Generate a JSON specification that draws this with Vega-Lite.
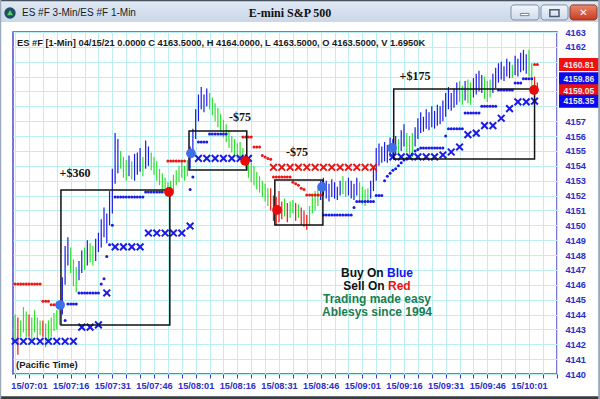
{
  "$schema": "https://vega.github.io/schema/vega-lite/v6.json",
  "width": 544,
  "height": 342,
  "autosize": "none",
  "padding": {"left": 13, "top": 32, "right": 43, "bottom": 25},
  "background": "white",
  "config": {
    "view": {"stroke": "#4b4bd0", "strokeWidth": 1.5, "fill": "white"},
    "axis": {"domain": false, "gridColor": "#bdeef2", "gridWidth": 1, "labelFont": "Liberation Sans", "labelFontWeight": "bold", "labelFontSize": 9.2, "labelColor": "#2d2dc8", "labelOverlap": false, "labelBound": false}
  },
  "datasets": {
    "bars": [
      {"t":416,"h":4144.0,"l":4142.3,"k":"weak"},{"t":417,"h":4143.8,"l":4141.3,"k":"down"},{"t":418,"h":4143.6,"l":4142.5,"k":"weak"},{"t":419,"h":4144.5,"l":4142.8,"k":"weak"},{"t":420,"h":4144.2,"l":4142.5,"k":"weak"},{"t":421,"h":4144.0,"l":4142.5,"k":"down"},{"t":422,"h":4143.8,"l":4142.3,"k":"weak"},{"t":423,"h":4144.3,"l":4142.8,"k":"weak"},{"t":424,"h":4143.8,"l":4142.3,"k":"weak"},{"t":425,"h":4143.6,"l":4142.6,"k":"weak"},{"t":426,"h":4143.6,"l":4142.5,"k":"down"},{"t":427,"h":4143.4,"l":4141.8,"k":"weak"},{"t":428,"h":4143.6,"l":4142.1,"k":"weak"},{"t":429,"h":4143.8,"l":4142.5,"k":"weak"},{"t":430,"h":4144.1,"l":4142.9,"k":"weak"},{"t":431,"h":4144.3,"l":4143.0,"k":"weak"},{"t":432,"h":4144.6,"l":4143.3,"k":"weak"},
      {"t":433,"h":4146.5,"l":4144.0,"k":"up"},{"t":434,"h":4148.6,"l":4146.0,"k":"up"},{"t":435,"h":4149.2,"l":4147.3,"k":"up"},{"t":436,"h":4148.5,"l":4146.8,"k":"weak"},{"t":437,"h":4147.7,"l":4145.9,"k":"weak"},{"t":438,"h":4147.2,"l":4145.5,"k":"weak"},{"t":439,"h":4147.6,"l":4146.3,"k":"up"},{"t":440,"h":4148.3,"l":4146.8,"k":"up"},{"t":441,"h":4148.5,"l":4147.0,"k":"weak"},{"t":442,"h":4149.0,"l":4147.3,"k":"up"},{"t":443,"h":4148.8,"l":4147.5,"k":"weak"},{"t":444,"h":4148.6,"l":4147.3,"k":"weak"},{"t":445,"h":4149.1,"l":4147.6,"k":"up"},{"t":446,"h":4149.5,"l":4148.2,"k":"up"},{"t":447,"h":4150.4,"l":4148.5,"k":"up"},{"t":448,"h":4151.2,"l":4149.2,"k":"up"},{"t":449,"h":4150.8,"l":4148.8,"k":"up"},{"t":450,"h":4152.3,"l":4150.0,"k":"up"},
      {"t":451,"h":4153.8,"l":4150.8,"k":"up"},{"t":452,"h":4156.2,"l":4152.8,"k":"up"},{"t":453,"h":4155.8,"l":4153.5,"k":"up"},{"t":454,"h":4155.0,"l":4153.8,"k":"weak"},{"t":455,"h":4154.6,"l":4153.2,"k":"weak"},{"t":456,"h":4154.4,"l":4153.0,"k":"weak"},{"t":457,"h":4154.7,"l":4153.3,"k":"up"},{"t":458,"h":4154.3,"l":4153.1,"k":"weak"},{"t":459,"h":4154.8,"l":4153.0,"k":"up"},{"t":460,"h":4154.9,"l":4153.4,"k":"up"},{"t":461,"h":4155.2,"l":4153.6,"k":"up"},{"t":462,"h":4154.6,"l":4153.3,"k":"weak"},{"t":463,"h":4155.7,"l":4153.8,"k":"up"},{"t":464,"h":4155.3,"l":4154.0,"k":"up"},{"t":465,"h":4154.9,"l":4153.7,"k":"weak"},{"t":466,"h":4154.6,"l":4153.4,"k":"weak"},{"t":467,"h":4154.3,"l":4153.0,"k":"weak"},{"t":468,"h":4153.8,"l":4152.7,"k":"weak"},{"t":469,"h":4153.5,"l":4152.4,"k":"weak"},{"t":470,"h":4153.2,"l":4152.2,"k":"weak"},
      {"t":471,"h":4152.9,"l":4151.9,"k":"weak"},{"t":472,"h":4153.0,"l":4152.0,"k":"weak"},{"t":473,"h":4153.4,"l":4152.3,"k":"weak"},{"t":474,"h":4153.7,"l":4152.7,"k":"weak"},{"t":475,"h":4154.0,"l":4152.9,"k":"weak"},{"t":476,"h":4154.3,"l":4153.2,"k":"weak"},{"t":477,"h":4154.0,"l":4153.0,"k":"weak"},{"t":478,"h":4154.4,"l":4153.3,"k":"weak"},{"t":479,"h":4155.3,"l":4153.8,"k":"up"},{"t":480,"h":4156.5,"l":4154.6,"k":"up"},{"t":481,"h":4157.8,"l":4155.8,"k":"up"},{"t":482,"h":4158.8,"l":4157.0,"k":"up"},{"t":483,"h":4159.3,"l":4157.8,"k":"up"},{"t":484,"h":4158.8,"l":4157.6,"k":"up"},{"t":485,"h":4159.2,"l":4158.0,"k":"up"},{"t":486,"h":4158.9,"l":4157.8,"k":"weak"},{"t":487,"h":4158.6,"l":4157.4,"k":"weak"},{"t":488,"h":4158.2,"l":4157.0,"k":"weak"},{"t":489,"h":4157.9,"l":4156.6,"k":"weak"},{"t":490,"h":4157.5,"l":4156.3,"k":"weak"},
      {"t":491,"h":4157.1,"l":4155.9,"k":"weak"},{"t":492,"h":4156.8,"l":4155.6,"k":"weak"},{"t":493,"h":4156.4,"l":4155.2,"k":"weak"},{"t":494,"h":4156.0,"l":4154.9,"k":"weak"},{"t":495,"h":4155.8,"l":4154.6,"k":"weak"},{"t":496,"h":4155.5,"l":4154.5,"k":"weak"},{"t":497,"h":4155.6,"l":4154.4,"k":"weak"},{"t":498,"h":4155.2,"l":4154.1,"k":"weak"},{"t":499,"h":4154.8,"l":4153.8,"k":"weak"},{"t":500,"h":4154.5,"l":4153.2,"k":"weak"},{"t":501,"h":4154.2,"l":4152.9,"k":"weak"},{"t":502,"h":4154.0,"l":4152.7,"k":"weak"},{"t":503,"h":4153.6,"l":4152.4,"k":"weak"},{"t":504,"h":4153.3,"l":4152.2,"k":"weak"},{"t":505,"h":4153.0,"l":4151.9,"k":"weak"},{"t":506,"h":4152.8,"l":4151.6,"k":"weak"},{"t":507,"h":4152.5,"l":4151.3,"k":"weak"},{"t":508,"h":4152.5,"l":4151.0,"k":"down"},{"t":509,"h":4152.0,"l":4150.3,"k":"down"},{"t":510,"h":4151.9,"l":4150.0,"k":"down"},
      {"t":511,"h":4152.3,"l":4150.2,"k":"down"},{"t":512,"h":4151.6,"l":4150.4,"k":"down"},{"t":513,"h":4151.8,"l":4150.6,"k":"weak"},{"t":514,"h":4151.5,"l":4150.2,"k":"down"},{"t":515,"h":4151.6,"l":4150.5,"k":"weak"},{"t":516,"h":4151.7,"l":4150.8,"k":"weak"},{"t":517,"h":4151.5,"l":4150.3,"k":"down"},{"t":518,"h":4151.4,"l":4150.5,"k":"weak"},{"t":519,"h":4151.2,"l":4150.0,"k":"down"},{"t":520,"h":4151.0,"l":4149.9,"k":"down"},{"t":521,"h":4150.7,"l":4149.7,"k":"down"},{"t":522,"h":4151.3,"l":4150.0,"k":"weak"},{"t":523,"h":4152.0,"l":4150.8,"k":"weak"},{"t":524,"h":4152.3,"l":4151.0,"k":"weak"},{"t":525,"h":4152.5,"l":4151.3,"k":"weak"},{"t":526,"h":4153.0,"l":4151.7,"k":"up"},{"t":527,"h":4153.2,"l":4152.0,"k":"up"},{"t":528,"h":4153.0,"l":4151.8,"k":"up"},{"t":529,"h":4152.8,"l":4151.6,"k":"up"},{"t":530,"h":4153.1,"l":4151.9,"k":"up"},
      {"t":531,"h":4152.9,"l":4151.8,"k":"up"},{"t":532,"h":4152.6,"l":4151.7,"k":"up"},{"t":533,"h":4153.0,"l":4152.0,"k":"up"},{"t":534,"h":4153.3,"l":4152.1,"k":"weak"},{"t":535,"h":4153.0,"l":4151.9,"k":"weak"},{"t":536,"h":4153.2,"l":4152.0,"k":"up"},{"t":537,"h":4153.0,"l":4151.8,"k":"up"},{"t":538,"h":4152.8,"l":4151.7,"k":"up"},{"t":539,"h":4153.2,"l":4152.0,"k":"up"},{"t":540,"h":4152.9,"l":4151.6,"k":"weak"},{"t":541,"h":4152.6,"l":4151.4,"k":"weak"},{"t":542,"h":4152.4,"l":4151.3,"k":"weak"},{"t":543,"h":4152.5,"l":4151.6,"k":"weak"},{"t":544,"h":4153.0,"l":4151.8,"k":"up"},{"t":545,"h":4154.0,"l":4152.3,"k":"up"},{"t":546,"h":4155.2,"l":4153.0,"k":"up"},{"t":547,"h":4155.5,"l":4154.0,"k":"up"},{"t":548,"h":4155.3,"l":4154.2,"k":"up"},{"t":549,"h":4155.6,"l":4154.3,"k":"up"},{"t":550,"h":4155.4,"l":4154.2,"k":"up"},
      {"t":551,"h":4155.9,"l":4154.6,"k":"up"},{"t":552,"h":4155.8,"l":4154.7,"k":"up"},{"t":553,"h":4156.0,"l":4154.8,"k":"up"},{"t":554,"h":4155.8,"l":4154.7,"k":"weak"},{"t":555,"h":4156.4,"l":4155.0,"k":"up"},{"t":556,"h":4156.8,"l":4155.3,"k":"up"},{"t":557,"h":4156.2,"l":4154.9,"k":"weak"},{"t":558,"h":4156.0,"l":4154.5,"k":"weak"},{"t":559,"h":4156.2,"l":4154.6,"k":"weak"},{"t":560,"h":4156.6,"l":4155.3,"k":"up"},{"t":561,"h":4157.2,"l":4155.8,"k":"up"},{"t":562,"h":4157.6,"l":4156.2,"k":"up"},{"t":563,"h":4157.3,"l":4156.3,"k":"up"},{"t":564,"h":4157.8,"l":4156.5,"k":"up"},{"t":565,"h":4157.6,"l":4156.4,"k":"up"},{"t":566,"h":4158.0,"l":4156.6,"k":"up"},{"t":567,"h":4157.7,"l":4156.5,"k":"up"},{"t":568,"h":4158.1,"l":4156.7,"k":"up"},{"t":569,"h":4158.0,"l":4156.8,"k":"up"},{"t":570,"h":4158.4,"l":4157.0,"k":"up"},
      {"t":571,"h":4158.9,"l":4157.3,"k":"up"},{"t":572,"h":4159.3,"l":4157.8,"k":"up"},{"t":573,"h":4158.9,"l":4157.7,"k":"up"},{"t":574,"h":4159.2,"l":4157.9,"k":"up"},{"t":575,"h":4159.6,"l":4158.1,"k":"up"},{"t":576,"h":4159.7,"l":4158.3,"k":"weak"},{"t":577,"h":4159.4,"l":4158.1,"k":"weak"},{"t":578,"h":4159.7,"l":4158.4,"k":"up"},{"t":579,"h":4159.8,"l":4158.2,"k":"weak"},{"t":580,"h":4159.6,"l":4158.1,"k":"weak"},{"t":581,"h":4159.9,"l":4158.6,"k":"up"},{"t":582,"h":4160.2,"l":4158.8,"k":"up"},{"t":583,"h":4160.4,"l":4159.0,"k":"up"},{"t":584,"h":4160.1,"l":4158.9,"k":"up"},{"t":585,"h":4160.0,"l":4158.5,"k":"weak"},{"t":586,"h":4159.7,"l":4158.3,"k":"weak"},{"t":587,"h":4159.8,"l":4158.6,"k":"weak"},{"t":588,"h":4160.2,"l":4158.9,"k":"up"},{"t":589,"h":4160.6,"l":4159.2,"k":"up"},{"t":590,"h":4160.9,"l":4159.6,"k":"up"},
      {"t":591,"h":4161.0,"l":4159.8,"k":"up"},{"t":592,"h":4160.7,"l":4159.7,"k":"up"},{"t":593,"h":4161.2,"l":4160.0,"k":"up"},{"t":594,"h":4161.0,"l":4159.9,"k":"up"},{"t":595,"h":4160.8,"l":4159.9,"k":"weak"},{"t":596,"h":4161.4,"l":4160.1,"k":"up"},{"t":597,"h":4161.2,"l":4160.0,"k":"up"},{"t":598,"h":4161.6,"l":4160.3,"k":"up"},{"t":599,"h":4161.8,"l":4160.4,"k":"up"},{"t":600,"h":4161.5,"l":4160.2,"k":"up"},{"t":601,"h":4161.8,"l":4160.0,"k":"weak"},{"t":602,"h":4160.9,"l":4159.4,"k":"weak"},{"t":603,"h":4160.0,"l":4158.9,"k":"down"},{"t":604,"h":4159.6,"l":4158.9,"k":"down"}
    ],
    "dots": [
      {"t":416,"p":4146.05,"s":"sell"},{"t":417,"p":4146.05,"s":"sell"},{"t":418,"p":4146.05,"s":"sell"},{"t":419,"p":4146.05,"s":"sell"},{"t":420,"p":4146.05,"s":"sell"},{"t":421,"p":4146.05,"s":"sell"},{"t":422,"p":4146.05,"s":"sell"},{"t":423,"p":4146.05,"s":"sell"},{"t":424,"p":4146.05,"s":"sell"},{"t":425,"p":4146.05,"s":"sell"},
      {"t":426,"p":4144.9,"s":"sell"},{"t":427,"p":4144.9,"s":"sell"},{"t":428,"p":4144.9,"s":"sell"},{"t":429,"p":4144.65,"s":"sell"},{"t":430,"p":4144.65,"s":"sell"},{"t":431,"p":4144.65,"s":"sell"},
      {"t":471,"p":4154.33,"s":"sell"},{"t":472,"p":4154.33,"s":"sell"},{"t":473,"p":4154.33,"s":"sell"},{"t":474,"p":4154.33,"s":"sell"},{"t":475,"p":4154.33,"s":"sell"},{"t":476,"p":4154.33,"s":"sell"},{"t":477,"p":4154.33,"s":"sell"},
      {"t":498,"p":4155.94,"s":"sell"},{"t":499,"p":4155.94,"s":"sell"},{"t":500,"p":4155.94,"s":"sell"},{"t":501,"p":4155.94,"s":"sell"},{"t":502,"p":4155.27,"s":"sell"},{"t":503,"p":4155.27,"s":"sell"},{"t":504,"p":4155.27,"s":"sell"},{"t":505,"p":4154.7,"s":"sell"},{"t":506,"p":4154.6,"s":"sell"},{"t":507,"p":4154.5,"s":"sell"},{"t":508,"p":4154.45,"s":"sell"},
      {"t":509,"p":4153.25,"s":"sell"},{"t":510,"p":4153.25,"s":"sell"},{"t":511,"p":4153.25,"s":"sell"},{"t":512,"p":4153.25,"s":"sell"},{"t":513,"p":4153.25,"s":"sell"},{"t":514,"p":4153.25,"s":"sell"},{"t":515,"p":4153.25,"s":"sell"},{"t":516,"p":4152.9,"s":"sell"},{"t":517,"p":4152.8,"s":"sell"},{"t":518,"p":4152.7,"s":"sell"},{"t":519,"p":4152.5,"s":"sell"},{"t":520,"p":4152.4,"s":"sell"},
      {"t":521,"p":4152.04,"s":"sell"},{"t":522,"p":4152.04,"s":"sell"},{"t":523,"p":4152.04,"s":"sell"},{"t":524,"p":4152.04,"s":"sell"},{"t":525,"p":4152.04,"s":"sell"},{"t":526,"p":4152.04,"s":"sell"},
      {"t":603,"p":4160.81,"s":"sell"},{"t":604,"p":4160.81,"s":"sell"},
      {"t":434,"p":4143.6,"s":"buy"},{"t":435,"p":4144.7,"s":"buy"},{"t":436,"p":4144.7,"s":"buy"},{"t":437,"p":4144.7,"s":"buy"},{"t":438,"p":4144.7,"s":"buy"},
      {"t":439,"p":4145.45,"s":"buy"},{"t":440,"p":4145.45,"s":"buy"},{"t":441,"p":4145.45,"s":"buy"},{"t":442,"p":4145.45,"s":"buy"},{"t":443,"p":4145.45,"s":"buy"},{"t":444,"p":4145.45,"s":"buy"},{"t":445,"p":4145.45,"s":"buy"},{"t":446,"p":4145.45,"s":"buy"},
      {"t":447,"p":4146.05,"s":"buy"},{"t":448,"p":4146.4,"s":"buy"},{"t":449,"p":4147.9,"s":"buy"},{"t":450,"p":4148.7,"s":"buy"},{"t":451,"p":4150.0,"s":"buy"},
      {"t":452,"p":4151.9,"s":"buy"},{"t":453,"p":4151.9,"s":"buy"},{"t":454,"p":4151.9,"s":"buy"},{"t":455,"p":4151.9,"s":"buy"},{"t":456,"p":4151.9,"s":"buy"},{"t":457,"p":4151.9,"s":"buy"},{"t":458,"p":4151.9,"s":"buy"},{"t":459,"p":4151.9,"s":"buy"},{"t":460,"p":4151.9,"s":"buy"},{"t":461,"p":4151.9,"s":"buy"},{"t":462,"p":4151.9,"s":"buy"},
      {"t":463,"p":4152.24,"s":"buy"},{"t":464,"p":4152.24,"s":"buy"},{"t":465,"p":4152.24,"s":"buy"},{"t":466,"p":4152.24,"s":"buy"},{"t":467,"p":4152.24,"s":"buy"},{"t":468,"p":4152.24,"s":"buy"},{"t":469,"p":4152.24,"s":"buy"},
      {"t":479,"p":4152.4,"s":"buy"},{"t":480,"p":4153.25,"s":"buy"},{"t":482,"p":4155.6,"s":"buy"},{"t":483,"p":4155.6,"s":"buy"},{"t":484,"p":4155.6,"s":"buy"},{"t":485,"p":4155.6,"s":"buy"},
      {"t":486,"p":4156.14,"s":"buy"},{"t":487,"p":4156.14,"s":"buy"},{"t":488,"p":4156.14,"s":"buy"},{"t":489,"p":4156.14,"s":"buy"},{"t":490,"p":4156.14,"s":"buy"},{"t":491,"p":4156.14,"s":"buy"},{"t":492,"p":4156.14,"s":"buy"},
      {"t":527,"p":4150.7,"s":"buy"},{"t":528,"p":4150.7,"s":"buy"},{"t":529,"p":4150.7,"s":"buy"},{"t":530,"p":4150.7,"s":"buy"},{"t":531,"p":4150.7,"s":"buy"},{"t":532,"p":4150.7,"s":"buy"},{"t":533,"p":4150.7,"s":"buy"},{"t":534,"p":4150.7,"s":"buy"},{"t":535,"p":4150.7,"s":"buy"},{"t":536,"p":4150.7,"s":"buy"},{"t":537,"p":4150.7,"s":"buy"},{"t":538,"p":4151.2,"s":"buy"},
      {"t":539,"p":4151.6,"s":"buy"},{"t":540,"p":4151.6,"s":"buy"},{"t":541,"p":4151.6,"s":"buy"},{"t":542,"p":4151.6,"s":"buy"},{"t":543,"p":4151.6,"s":"buy"},{"t":544,"p":4151.6,"s":"buy"},{"t":545,"p":4151.6,"s":"buy"},
      {"t":546,"p":4152.0,"s":"buy"},{"t":547,"p":4152.0,"s":"buy"},{"t":548,"p":4152.0,"s":"buy"},{"t":549,"p":4153.0,"s":"buy"},{"t":550,"p":4153.3,"s":"buy"},{"t":551,"p":4153.5,"s":"buy"},{"t":552,"p":4153.7,"s":"buy"},{"t":553,"p":4153.8,"s":"buy"},{"t":554,"p":4154.0,"s":"buy"},{"t":555,"p":4154.2,"s":"buy"},{"t":556,"p":4154.4,"s":"buy"},{"t":557,"p":4154.5,"s":"buy"},{"t":558,"p":4154.6,"s":"buy"},{"t":559,"p":4154.8,"s":"buy"},{"t":560,"p":4155.0,"s":"buy"},{"t":561,"p":4155.1,"s":"buy"},
      {"t":562,"p":4155.2,"s":"buy"},{"t":563,"p":4155.2,"s":"buy"},{"t":564,"p":4155.2,"s":"buy"},{"t":565,"p":4155.2,"s":"buy"},{"t":566,"p":4155.2,"s":"buy"},{"t":567,"p":4155.2,"s":"buy"},{"t":568,"p":4155.2,"s":"buy"},{"t":569,"p":4155.2,"s":"buy"},{"t":570,"p":4155.2,"s":"buy"},{"t":571,"p":4156.0,"s":"buy"},
      {"t":572,"p":4156.5,"s":"buy"},{"t":573,"p":4156.5,"s":"buy"},{"t":574,"p":4156.5,"s":"buy"},{"t":575,"p":4156.5,"s":"buy"},{"t":576,"p":4156.5,"s":"buy"},{"t":577,"p":4156.5,"s":"buy"},
      {"t":578,"p":4157.55,"s":"buy"},{"t":579,"p":4157.55,"s":"buy"},{"t":580,"p":4157.55,"s":"buy"},{"t":581,"p":4157.55,"s":"buy"},{"t":582,"p":4157.55,"s":"buy"},{"t":583,"p":4157.55,"s":"buy"},
      {"t":584,"p":4158.0,"s":"buy"},{"t":585,"p":4158.0,"s":"buy"},{"t":586,"p":4158.0,"s":"buy"},{"t":587,"p":4158.0,"s":"buy"},{"t":588,"p":4158.0,"s":"buy"},{"t":589,"p":4158.0,"s":"buy"},
      {"t":590,"p":4159.1,"s":"buy"},{"t":591,"p":4159.1,"s":"buy"},{"t":592,"p":4159.1,"s":"buy"},{"t":593,"p":4159.1,"s":"buy"},{"t":594,"p":4159.1,"s":"buy"},{"t":595,"p":4159.1,"s":"buy"},
      {"t":596,"p":4159.57,"s":"buy"},{"t":597,"p":4159.57,"s":"buy"},{"t":598,"p":4159.57,"s":"buy"},{"t":599,"p":4159.86,"s":"buy"},{"t":600,"p":4159.86,"s":"buy"},{"t":601,"p":4159.86,"s":"buy"},{"t":602,"p":4159.86,"s":"buy"}
    ],
    "crosses": [
      {"t":416,"p":4142.2,"s":"buy"},{"t":419,"p":4142.2,"s":"buy"},{"t":422,"p":4142.2,"s":"buy"},{"t":425,"p":4142.2,"s":"buy"},{"t":428,"p":4142.2,"s":"buy"},{"t":431,"p":4142.2,"s":"buy"},{"t":434,"p":4142.2,"s":"buy"},{"t":437,"p":4142.2,"s":"buy"},
      {"t":440,"p":4143.15,"s":"buy"},{"t":443,"p":4143.15,"s":"buy"},{"t":446,"p":4143.3,"s":"buy"},{"t":449,"p":4145.45,"s":"buy"},
      {"t":452,"p":4148.55,"s":"buy"},{"t":455,"p":4148.55,"s":"buy"},{"t":458,"p":4148.55,"s":"buy"},{"t":461,"p":4148.55,"s":"buy"},
      {"t":464,"p":4149.48,"s":"buy"},{"t":467,"p":4149.48,"s":"buy"},{"t":470,"p":4149.48,"s":"buy"},{"t":473,"p":4149.48,"s":"buy"},{"t":476,"p":4149.48,"s":"buy"},{"t":479,"p":4149.95,"s":"buy"},
      {"t":482,"p":4154.5,"s":"buy"},{"t":485,"p":4154.5,"s":"buy"},{"t":488,"p":4154.5,"s":"buy"},{"t":491,"p":4154.5,"s":"buy"},{"t":494,"p":4154.5,"s":"buy"},{"t":497,"p":4154.5,"s":"buy"},{"t":500,"p":4154.5,"s":"buy"},
      {"t":509,"p":4153.9,"s":"sell"},{"t":512,"p":4153.9,"s":"sell"},{"t":515,"p":4153.9,"s":"sell"},{"t":518,"p":4153.9,"s":"sell"},{"t":521,"p":4153.9,"s":"sell"},{"t":524,"p":4153.9,"s":"sell"},{"t":527,"p":4153.9,"s":"sell"},{"t":530,"p":4153.9,"s":"sell"},{"t":533,"p":4153.9,"s":"sell"},{"t":536,"p":4153.9,"s":"sell"},{"t":539,"p":4153.9,"s":"sell"},{"t":542,"p":4153.9,"s":"sell"},{"t":545,"p":4153.9,"s":"sell"},
      {"t":552,"p":4154.6,"s":"buy"},{"t":555,"p":4154.6,"s":"buy"},{"t":558,"p":4154.6,"s":"buy"},{"t":561,"p":4154.6,"s":"buy"},{"t":564,"p":4154.6,"s":"buy"},{"t":567,"p":4154.6,"s":"buy"},{"t":570,"p":4154.73,"s":"buy"},{"t":573,"p":4154.93,"s":"buy"},{"t":576,"p":4155.27,"s":"buy"},{"t":579,"p":4156.1,"s":"buy"},{"t":582,"p":4156.2,"s":"buy"},{"t":585,"p":4156.7,"s":"buy"},{"t":588,"p":4156.7,"s":"buy"},{"t":591,"p":4157.2,"s":"buy"},{"t":594,"p":4157.85,"s":"buy"},{"t":597,"p":4158.3,"s":"buy"},{"t":600,"p":4158.3,"s":"buy"},{"t":603,"p":4158.35,"s":"buy"}
    ],
    "trades": [
      {"t":432.2,"p":4144.64,"s":"buy"},{"t":471.4,"p":4152.24,"s":"sell"},{"t":479.3,"p":4154.84,"s":"buy"},{"t":498.8,"p":4154.33,"s":"sell"},{"t":510.3,"p":4151.03,"s":"sell"},{"t":526.5,"p":4152.58,"s":"buy"},{"t":551.7,"p":4155.2,"s":"buy"},{"t":602.8,"p":4159.1,"s":"sell"}
    ],
    "boxes": [
      {"t1":432.5,"t2":471.7,"p1":4143.3,"p2":4152.37,"pnl":"+$360","lt":437.56,"lp":4153.52},
      {"t1":478.6,"t2":499.4,"p1":4153.72,"p2":4156.34,"pnl":"-$75","lt":496.96,"lp":4157.28},
      {"t1":509.5,"t2":526.8,"p1":4150.02,"p2":4153.05,"pnl":"-$75","lt":517.48,"lp":4154.93},
      {"t1":552.3,"t2":603.0,"p1":4154.46,"p2":4159.17,"pnl":"+$175","lt":559.96,"lp":4160.04}
    ],
    "last": [
      {"p":4160.81,"s":"sell"},{"p":4159.86,"s":"buy"},{"p":4159.05,"s":"sell"},{"p":4158.35,"s":"buy"}
    ]
  },
  "resolve": {"scale": {"color": "independent"}, "axis": {"x": "independent", "y": "independent"}},
  "layer": [
    {
      "data": {"name": "bars"},
      "mark": {"type": "rule", "strokeWidth": 1.2},
      "encoding": {
        "x": {"field": "t", "type": "quantitative", "title": null, "scale": {"domain": [415.24, 611.08], "nice": false, "zero": false},
          "axis": {"orient": "bottom", "title": null, "values": [416,421,426,431,436,441,446,451,456,461,466,471,476,481,486,491,496,501,506,511,516,521,526,531,536,541,546,551,556,561,566,571,576,581,586,591,596,601,606,611],
            "labelExpr": "(datum.value - 421) % 15 == 0 ? '15/' + format(floor(datum.value / 60), '02d') + ':' + format(datum.value % 60, '02d') : ''",
            "tickColor": "#3a3ad0", "tickSize": 4, "labelPadding": 3, "labelFlush": false, "labelOverlap": false, "labelBound": false, "grid": true}},
        "y": {"field": "l", "type": "quantitative", "title": null, "scale": {"domain": [4140, 4163], "nice": false, "zero": false},
          "axis": {"orient": "right", "title": null, "values": [4140,4141,4142,4143,4144,4145,4146,4147,4148,4149,4150,4151,4152,4153,4154,4155,4156,4157,4158,4159,4160,4161,4162,4163],
            "labelExpr": "datum.value >= 4158 && datum.value <= 4161 ? '' : datum.label",
            "ticks": false, "labelPadding": 8, "labelAlign": "left", "labelOverlap": false, "labelBound": false, "labelFlush": false, "grid": true, "format": "d"}},
        "y2": {"field": "h"},
        "color": {"field": "k", "type": "nominal", "scale": {"domain": ["up", "weak", "down"], "range": ["#1b1be6", "#2fe02f", "#ee1515"]}, "legend": null}
      }
    },
    {
      "data": {"name": "dots"},
      "mark": {"type": "circle", "size": 9, "opacity": 1},
      "encoding": {
        "x": {"field": "t", "type": "quantitative", "axis": null},
        "y": {"field": "p", "type": "quantitative", "axis": null},
        "color": {"field": "s", "type": "nominal", "scale": {"domain": ["buy", "sell"], "range": ["#1b1be6", "#ee1515"]}, "legend": null}
      }
    },
    {
      "data": {"name": "crosses"},
      "mark": {"type": "point", "shape": "M-1,-1L1,1M-1,1L1,-1", "filled": false, "size": 45, "strokeWidth": 2, "opacity": 1},
      "encoding": {
        "x": {"field": "t", "type": "quantitative", "axis": null},
        "y": {"field": "p", "type": "quantitative", "axis": null},
        "color": {"field": "s", "type": "nominal", "scale": {"domain": ["buy", "sell"], "range": ["#1b1be6", "#ee1515"]}, "legend": null}
      }
    },
    {
      "data": {"name": "boxes"},
      "mark": {"type": "rect", "filled": false, "stroke": "#111111", "strokeWidth": 1.5},
      "encoding": {
        "x": {"field": "t1", "type": "quantitative", "axis": null},
        "x2": {"field": "t2"},
        "y": {"field": "p1", "type": "quantitative", "axis": null},
        "y2": {"field": "p2"}
      }
    },
    {
      "data": {"name": "boxes"},
      "mark": {"type": "text", "font": "Liberation Serif", "fontWeight": "bold", "fontSize": 12, "color": "#111111", "align": "center", "baseline": "middle"},
      "encoding": {
        "x": {"field": "lt", "type": "quantitative", "axis": null},
        "y": {"field": "lp", "type": "quantitative", "axis": null},
        "text": {"field": "pnl"}
      }
    },
    {
      "data": {"name": "trades"},
      "mark": {"type": "circle", "size": 95, "opacity": 1},
      "encoding": {
        "x": {"field": "t", "type": "quantitative", "axis": null},
        "y": {"field": "p", "type": "quantitative", "axis": null},
        "color": {"field": "s", "type": "nominal", "scale": {"domain": ["buy", "sell"], "range": ["#3f6fe6", "#e80a0a"]}, "legend": null}
      }
    },
    {
      "data": {"values": [{}]},
      "mark": {"type": "text", "font": "Liberation Sans", "fontWeight": "bold", "fontSize": 9.3, "color": "#1a1a1a", "align": "left", "baseline": "middle", "text": "ES #F [1-Min] 04/15/21  0.0000 C 4163.5000, H 4164.0000, L 4163.5000, O 4163.5000, V 1.6950K"},
      "encoding": {"x": {"datum": 416.68, "type": "quantitative", "axis": null}, "y": {"datum": 4162.26, "type": "quantitative", "axis": null}}
    },
    {
      "data": {"values": [{}]},
      "mark": {"type": "text", "font": "Liberation Sans", "fontWeight": "bold", "fontSize": 9.5, "color": "#1a1a1a", "align": "left", "baseline": "middle", "text": "(Pacific Time)"},
      "encoding": {"x": {"datum": 416.32, "type": "quantitative", "axis": null}, "y": {"datum": 4140.6, "type": "quantitative", "axis": null}}
    },
    {
      "data": {"values": [{}]},
      "mark": {"type": "text", "font": "Liberation Sans", "fontWeight": "bold", "fontSize": 12, "color": "#111111", "align": "right", "baseline": "middle", "text": "Buy On"},
      "encoding": {"x": {"datum": 548.69, "type": "quantitative", "axis": null}, "y": {"datum": 4146.79, "type": "quantitative", "axis": null}}
    },
    {
      "data": {"values": [{}]},
      "mark": {"type": "text", "font": "Liberation Sans", "fontWeight": "bold", "fontSize": 12, "color": "#1515ee", "align": "left", "baseline": "middle", "text": "Blue"},
      "encoding": {"x": {"datum": 549.88, "type": "quantitative", "axis": null}, "y": {"datum": 4146.79, "type": "quantitative", "axis": null}}
    },
    {
      "data": {"values": [{}]},
      "mark": {"type": "text", "font": "Liberation Sans", "fontWeight": "bold", "fontSize": 12, "color": "#111111", "align": "right", "baseline": "middle", "text": "Sell On"},
      "encoding": {"x": {"datum": 549.05, "type": "quantitative", "axis": null}, "y": {"datum": 4145.92, "type": "quantitative", "axis": null}}
    },
    {
      "data": {"values": [{}]},
      "mark": {"type": "text", "font": "Liberation Sans", "fontWeight": "bold", "fontSize": 12, "color": "#ee1111", "align": "left", "baseline": "middle", "text": "Red"},
      "encoding": {"x": {"datum": 550.24, "type": "quantitative", "axis": null}, "y": {"datum": 4145.92, "type": "quantitative", "axis": null}}
    },
    {
      "data": {"values": [{}]},
      "mark": {"type": "text", "font": "Liberation Sans", "fontWeight": "bold", "fontSize": 12, "color": "#1b7d50", "align": "center", "baseline": "middle", "text": "Trading made easy"},
      "encoding": {"x": {"datum": 546.28, "type": "quantitative", "axis": null}, "y": {"datum": 4145.04, "type": "quantitative", "axis": null}}
    },
    {
      "data": {"values": [{}]},
      "mark": {"type": "text", "font": "Liberation Sans", "fontWeight": "bold", "fontSize": 12, "color": "#1b7d50", "align": "center", "baseline": "middle", "text": "Ablesys since 1994"},
      "encoding": {"x": {"datum": 546.28, "type": "quantitative", "axis": null}, "y": {"datum": 4144.17, "type": "quantitative", "axis": null}}
    },
    {
      "data": {"name": "last"},
      "mark": {"type": "tick", "orient": "horizontal", "size": 41, "thickness": 13, "opacity": 1},
      "encoding": {
        "x": {"datum": 619.18, "type": "quantitative", "axis": null},
        "y": {"field": "p", "type": "quantitative", "axis": null},
        "color": {"field": "s", "type": "nominal", "scale": {"domain": ["buy", "sell"], "range": ["#0a0af0", "#f01010"]}, "legend": null}
      }
    },
    {
      "data": {"name": "last"},
      "mark": {"type": "text", "font": "Liberation Sans", "fontWeight": "bold", "fontSize": 8.5, "color": "#e8e8e8", "align": "left", "baseline": "middle"},
      "encoding": {
        "x": {"datum": 613.4, "type": "quantitative", "axis": null},
        "y": {"field": "p", "type": "quantitative", "axis": null},
        "text": {"field": "p", "type": "quantitative", "format": ".2f"}
      }
    },
    {
      "data": {"values": [{}]},
      "mark": {"type": "rect", "color": {"gradient": "linear", "x1": 0, "y1": 0, "x2": 0, "y2": 1, "stops": [{"offset": 0, "color": "#e8eff8"}, {"offset": 1, "color": "#c9d7e8"}]}},
      "encoding": {"x": {"datum": 409, "type": "quantitative", "axis": null}, "x2": {"datum": 628}, "y": {"datum": 4163.67, "type": "quantitative", "axis": null}, "y2": {"datum": 4165.6}}
    },
    {
      "data": {"values": [{}]},
      "mark": {"type": "rect", "color": "#46525e"},
      "encoding": {"x": {"datum": 409, "type": "quantitative", "axis": null}, "x2": {"datum": 628}, "y": {"datum": 4165.06, "type": "quantitative", "axis": null}, "y2": {"datum": 4165.6}}
    },
    {
      "data": {"values": [{}]},
      "mark": {"type": "rect", "color": "#363c42"},
      "encoding": {"x": {"datum": 409, "type": "quantitative", "axis": null}, "x2": {"datum": 628}, "y": {"datum": 4137.9, "type": "quantitative", "axis": null}, "y2": {"datum": 4138.5}}
    },
    {
      "data": {"values": [{}]},
      "mark": {"type": "rect", "color": "#9aa8b8"},
      "encoding": {"x": {"datum": 409, "type": "quantitative", "axis": null}, "x2": {"datum": 411.0}, "y": {"datum": 4137.9, "type": "quantitative", "axis": null}, "y2": {"datum": 4165.6}}
    },
    {
      "data": {"values": [{}]},
      "mark": {"type": "rect", "color": "#9aa8b8"},
      "encoding": {"x": {"datum": 625.9, "type": "quantitative", "axis": null}, "x2": {"datum": 628}, "y": {"datum": 4137.9, "type": "quantitative", "axis": null}, "y2": {"datum": 4165.6}}
    },
    {
      "data": {"values": [{}]},
      "mark": {"type": "rect", "cornerRadius": 3, "stroke": "#7d8fab", "strokeWidth": 1, "color": {"gradient": "linear", "x1": 0, "y1": 0, "x2": 0, "y2": 1, "stops": [{"offset": 0, "color": "#f2f6fb"}, {"offset": 1, "color": "#cfdbea"}]}},
      "encoding": {"x": {"datum": 594.52, "type": "quantitative", "axis": null}, "x2": {"datum": 604.6}, "y": {"datum": 4163.81, "type": "quantitative", "axis": null}, "y2": {"datum": 4164.82}}
    },
    {
      "data": {"values": [{}]},
      "mark": {"type": "rect", "cornerRadius": 3, "stroke": "#7d8fab", "strokeWidth": 1, "color": {"gradient": "linear", "x1": 0, "y1": 0, "x2": 0, "y2": 1, "stops": [{"offset": 0, "color": "#f2f6fb"}, {"offset": 1, "color": "#cfdbea"}]}},
      "encoding": {"x": {"datum": 605.32, "type": "quantitative", "axis": null}, "x2": {"datum": 615.04}, "y": {"datum": 4163.81, "type": "quantitative", "axis": null}, "y2": {"datum": 4164.82}}
    },
    {
      "data": {"values": [{}]},
      "mark": {"type": "rect", "cornerRadius": 3, "stroke": "#8a3a2a", "strokeWidth": 1, "color": {"gradient": "linear", "x1": 0, "y1": 0, "x2": 0, "y2": 1, "stops": [{"offset": 0, "color": "#e88a70"}, {"offset": 1, "color": "#c73a20"}]}},
      "encoding": {"x": {"datum": 615.76, "type": "quantitative", "axis": null}, "x2": {"datum": 625.48}, "y": {"datum": 4163.81, "type": "quantitative", "axis": null}, "y2": {"datum": 4164.82}}
    },
    {
      "data": {"values": [{}]},
      "mark": {"type": "rect", "color": "#ffffff", "stroke": "#5b6b82", "strokeWidth": 0.8},
      "encoding": {"x": {"datum": 597.9, "type": "quantitative", "axis": null}, "x2": {"datum": 601.0}, "y": {"datum": 4164.1, "type": "quantitative", "axis": null}, "y2": {"datum": 4164.25}}
    },
    {
      "data": {"values": [{}]},
      "mark": {"type": "rect", "filled": false, "stroke": "#4a5a72", "strokeWidth": 1.5},
      "encoding": {"x": {"datum": 608.5, "type": "quantitative", "axis": null}, "x2": {"datum": 611.8}, "y": {"datum": 4164.05, "type": "quantitative", "axis": null}, "y2": {"datum": 4164.5}}
    },
    {
      "data": {"values": [{}]},
      "mark": {"type": "text", "font": "DejaVu Sans", "fontWeight": "bold", "fontSize": 10, "color": "#ffffff", "align": "center", "baseline": "middle", "text": "✕"},
      "encoding": {"x": {"datum": 620.62, "type": "quantitative", "axis": null}, "y": {"datum": 4164.28, "type": "quantitative", "axis": null}}
    },
    {
      "data": {"values": [{}]},
      "mark": {"type": "circle", "size": 130, "color": "#1f4f66", "opacity": 1},
      "encoding": {"x": {"datum": 414.16, "type": "quantitative", "axis": null}, "y": {"datum": 4164.28, "type": "quantitative", "axis": null}}
    },
    {
      "data": {"values": [{}]},
      "mark": {"type": "point", "shape": "triangle-up", "filled": true, "size": 35, "color": "#5fd05f", "opacity": 1},
      "encoding": {"x": {"datum": 414.16, "type": "quantitative", "axis": null}, "y": {"datum": 4164.3, "type": "quantitative", "axis": null}}
    },
    {
      "data": {"values": [{}]},
      "mark": {"type": "text", "font": "Liberation Sans", "fontSize": 10, "color": "#1c1c1c", "align": "left", "baseline": "middle", "text": "ES #F 3-Min/ES #F 1-Min"},
      "encoding": {"x": {"datum": 418.48, "type": "quantitative", "axis": null}, "y": {"datum": 4164.28, "type": "quantitative", "axis": null}}
    },
    {
      "data": {"values": [{}]},
      "mark": {"type": "text", "font": "Liberation Serif", "fontWeight": "bold", "fontSize": 12, "color": "#111111", "align": "center", "baseline": "middle", "text": "E-mini S&P 500"},
      "encoding": {"x": {"datum": 514.96, "type": "quantitative", "axis": null}, "y": {"datum": 4164.28, "type": "quantitative", "axis": null}}
    }
  ]
}
